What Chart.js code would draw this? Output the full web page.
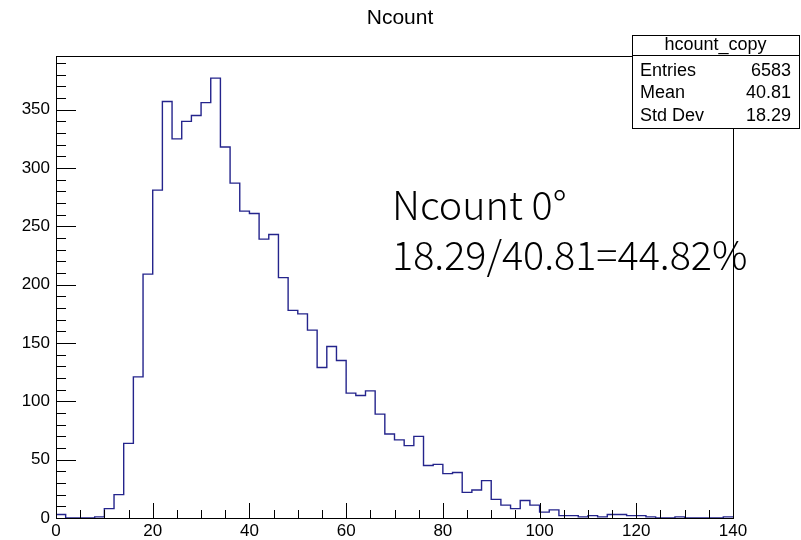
<!DOCTYPE html>
<html>
<head>
<meta charset="utf-8">
<script src="https://cdn.jsdelivr.net/npm/chart.js@4.4.0/dist/chart.umd.min.js"></script>
<style>
    html, body { margin: 0; padding: 0; background: #fff; }
    #wrap { width: 801px; height: 540px; }
</style>
</head>
<body>
<div id="wrap"><canvas id="histChart" width="801" height="540"></canvas></div>
<script>
// Histogram bins (low edge of each 2-wide bin) and counts
const binLowEdges = [
    0, 2, 4, 6, 8, 10, 12, 14, 16, 18,
    20, 22, 24, 26, 28, 30, 32, 34, 36, 38,
    40, 42, 44, 46, 48, 50, 52, 54, 56, 58,
    60, 62, 64, 66, 68, 70, 72, 74, 76, 78,
    80, 82, 84, 86, 88, 90, 92, 94, 96, 98,
    100, 102, 104, 106, 108, 110, 112, 114, 116, 118,
    120, 122, 124, 126, 128, 130, 132, 134, 136, 138
];
const binCounts = [
    3, 0, 0, 0, 1, 8, 20, 64, 121, 209,
    281, 357, 325, 340, 345, 356, 377, 318, 287, 263,
    261, 239, 243, 206, 178, 175, 161, 129, 147, 135,
    107, 105, 109, 89, 72, 67, 62, 70, 45, 46,
    38, 39, 22, 24, 32, 16, 11, 8, 15, 11,
    5, 7, 2, 2, 1, 2, 1, 3, 3, 2,
    2, 1, 0, 0, 1, 0, 0, 0, 0, 1
];
const xUpperEdge = 140;

const xTickLabels = [0, 20, 40, 60, 80, 100, 120, 140];
const yTickLabels = [0, 50, 100, 150, 200, 250, 300, 350];
const xMinorStep = 5;
const yMinorStep = 10;

const histTitle = 'Ncount';
const statTitle = 'hcount_copy';
const statNames = ['Entries', 'Mean', 'Std Dev'];
const statValues = ['6583', '40.81', '18.29'];
const noteLines = ['Ncount 0\u00b0', '18.29/40.81=44.82%'];

const tickFont = { family: "'Liberation Sans', Arial, sans-serif", size: 17 };

// step outline: one point per bin low edge, plus the closing edge
let points = binLowEdges.map((x, i) => ({ x: x, y: binCounts[i] }));
points.push({ x: xUpperEdge, y: binCounts[binCounts.length - 1] });

const rootFrame = {
    id: 'rootFrame',
    afterDraw(chart) {
        const ctx = chart.ctx;
        const a = chart.chartArea;
        const xs = chart.scales.x;
        const ys = chart.scales.y;

        ctx.save();
        ctx.strokeStyle = '#000';
        ctx.lineWidth = 1;

        // frame
        ctx.strokeRect(a.left + 0.5, a.top + 0.5, a.right - a.left, a.bottom - a.top);

        // x ticks (inside)
        ctx.beginPath();
        for (let v = xs.min; v <= xs.max; v += xMinorStep) {
            let px = Math.round(xs.getPixelForValue(v)) + 0.5;
            let len = xTickLabels.includes(v) ? 15 : 8;
            ctx.moveTo(px, a.bottom);
            ctx.lineTo(px, a.bottom - len);
        }
        // y ticks (inside)
        for (let v = ys.min; v <= ys.max; v += yMinorStep) {
            let py = Math.round(ys.getPixelForValue(v)) + 0.5;
            let len = yTickLabels.includes(v) ? 20 : 10;
            ctx.moveTo(a.left, py);
            ctx.lineTo(a.left + len, py);
        }
        ctx.stroke();

        // title
        ctx.fillStyle = '#000';
        ctx.font = "21px 'Liberation Sans', Arial, sans-serif";
        ctx.textAlign = 'center';
        ctx.textBaseline = 'middle';
        ctx.fillText(histTitle, 400, 18);

        // stats box
        const bx = 632, by = 35, bw = 167, bh = 93;
        ctx.fillStyle = '#fff';
        ctx.fillRect(bx, by, bw, bh);
        ctx.strokeRect(bx + 0.5, by + 0.5, bw, bh);
        ctx.beginPath();
        ctx.moveTo(bx, by + 20.5);
        ctx.lineTo(bx + bw, by + 20.5);
        ctx.stroke();

        ctx.fillStyle = '#000';
        ctx.font = "18px 'Liberation Sans', Arial, sans-serif";
        ctx.textAlign = 'center';
        ctx.textBaseline = 'alphabetic';
        ctx.fillText(statTitle, bx + bw / 2, by + 15);
        ctx.textBaseline = 'middle';
        statNames.forEach((name, i) => {
            let ty = by + 36 + i * 22.5;
            ctx.textAlign = 'left';
            ctx.fillText(name, bx + 8, ty);
            ctx.textAlign = 'right';
            ctx.fillText(statValues[i], bx + bw - 8, ty);
        });

        // overlay note
        ctx.font = "300 39.5px 'Noto Sans CJK SC', 'Noto Sans', sans-serif";
        ctx.textAlign = 'left';
        ctx.textBaseline = 'alphabetic';
        ctx.fillText(noteLines[0], 392, 220);
        ctx.fillText(noteLines[1], 392, 270);

        ctx.restore();
    }
};

new Chart(document.getElementById('histChart'), {
    type: 'line',
    data: {
        datasets: [{
            label: statTitle,
            data: points,
            borderColor: '#24248c',
            borderWidth: 1.4,
            pointRadius: 0,
            fill: false,
            tension: 0,
            stepped: 'before'
        }]
    },
    options: {
        responsive: false,
        animation: false,
        layout: { padding: { top: 56, right: 68, left: 0, bottom: 0 } },
        plugins: {
            legend: { display: false },
            tooltip: { enabled: false }
        },
        scales: {
            x: {
                type: 'linear',
                min: 0,
                max: 140,
                grid: { display: false, drawTicks: false },
                border: { display: false },
                ticks: {
                    color: '#000',
                    font: tickFont,
                    padding: 3,
                    autoSkip: false,
                    maxRotation: 0
                },
                afterBuildTicks: s => { s.ticks = xTickLabels.map(v => ({ value: v })); },
                afterFit: s => { s.height = 22; }
            },
            y: {
                type: 'linear',
                min: 0,
                max: 396,
                grid: { display: false, drawTicks: false },
                border: { display: false },
                ticks: {
                    color: '#000',
                    font: tickFont,
                    padding: 6
                },
                afterBuildTicks: s => { s.ticks = yTickLabels.map(v => ({ value: v })); },
                afterFit: s => { s.width = 56; }
            }
        }
    },
    plugins: [rootFrame]
});
</script>
</body>
</html>
